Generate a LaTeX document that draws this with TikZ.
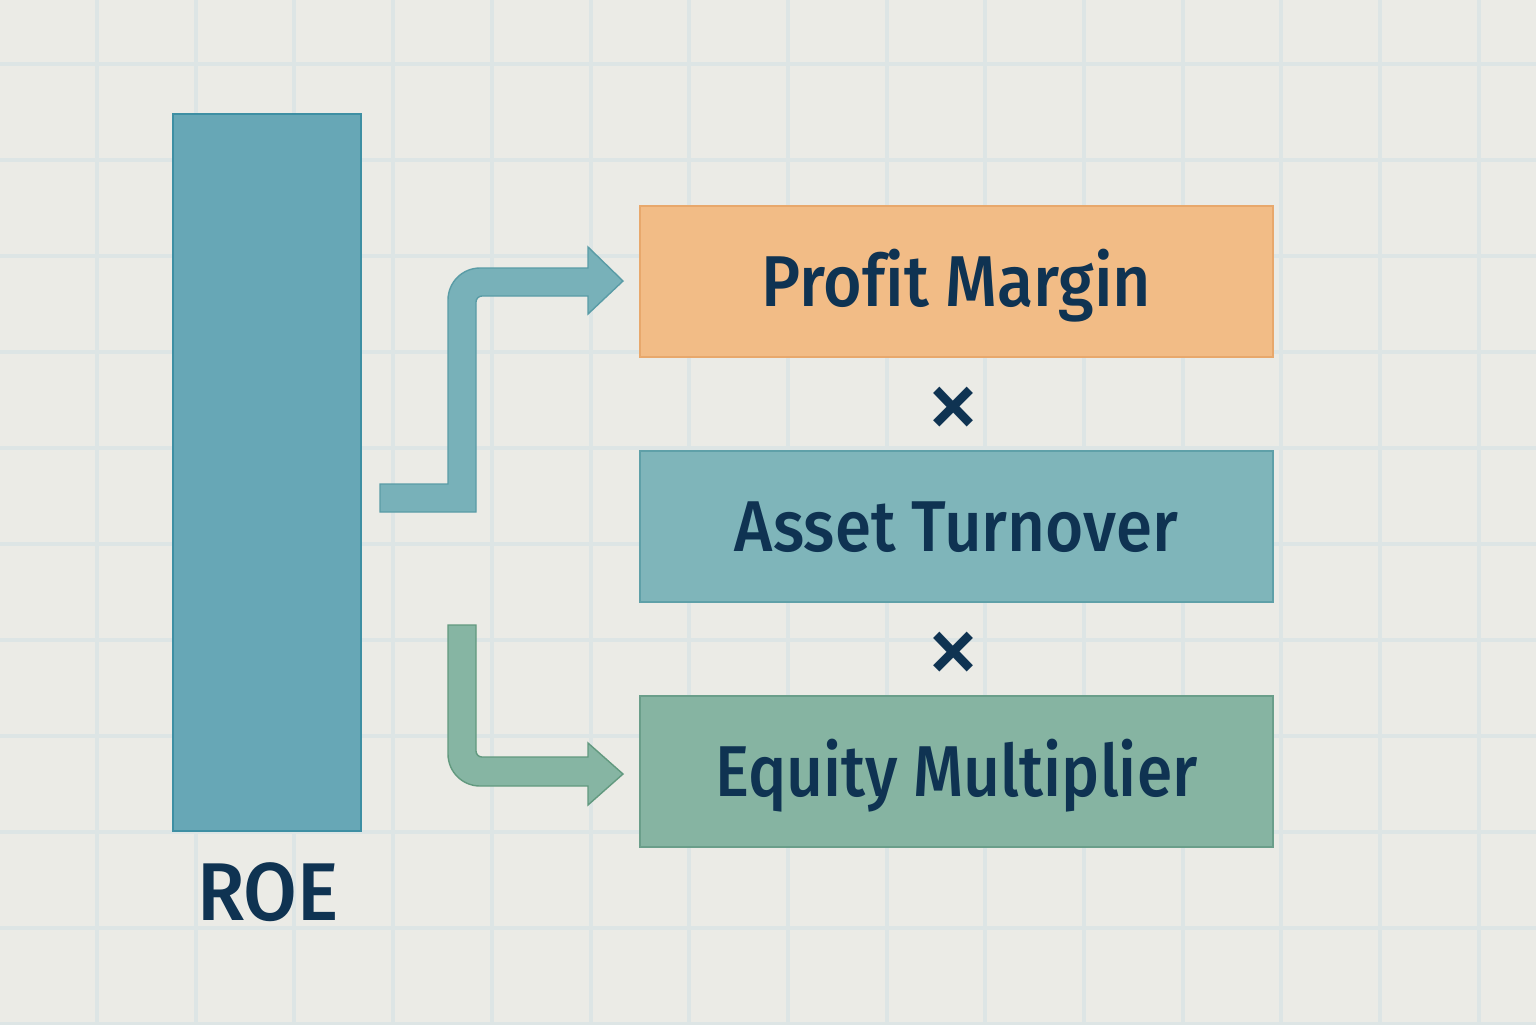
\documentclass[tikz,border=0pt]{standalone}
\usepackage{graphicx}
\usepackage{fontspec}
\setmainfont{Fira Sans}
\newfontfamily\medfont{Fira Sans Medium}[Ligatures=CommonOff]
\definecolor{bgc}{HTML}{EBEBE6}
\definecolor{gridc}{HTML}{DDE5E5}
\definecolor{roec}{HTML}{67A7B6}
\definecolor{roeb}{HTML}{3E8FA3}
\definecolor{pmc}{HTML}{F2BC86}
\definecolor{pmb}{HTML}{E8A86C}
\definecolor{atc}{HTML}{7FB5BA}
\definecolor{atb}{HTML}{5FA0A8}
\definecolor{emc}{HTML}{86B4A2}
\definecolor{emb}{HTML}{6A9E8A}
\definecolor{ar1}{HTML}{78B1B9}
\definecolor{ar1b}{HTML}{5A9CA6}
\definecolor{ar2}{HTML}{86B5A3}
\definecolor{ar2b}{HTML}{62997F}
\definecolor{txtc}{HTML}{0F3352}
\newcommand{\narrowtext}[2]{\scalebox{#1}[1]{#2}}
\tikzset{
  factor/.style={rectangle, inner sep=0pt, minimum width=316.5pt, minimum height=75.5pt,
    line width=0.7pt, text=txtc, font=\medfont\fontsize{36}{40}\selectfont,
    text height=25pt, text depth=0pt},
  gridline/.style={gridc, line width=2pt},
  timesign/.style={inner sep=0pt, text=txtc, font=\fontsize{56}{60}\selectfont},
  blockarrow/.style={line width=0.7pt, line join=miter}
}
\begin{document}
\begin{tikzpicture}[x=0.5pt,y=-0.5pt]
\fill[bgc] (0,0) rectangle (1536,1024);
\useasboundingbox (0,0) rectangle (1536,1024);
% grid
\foreach \i in {0,...,15} {
  \draw[gridline] ({97+98.7*\i},0) -- ({97+98.7*\i},1024);
}
\foreach \j in {0,...,10} {
  \draw[gridline] (0,{64+96*\j}) -- (1536,{64+96*\j});
}
% ROE bar
\node[rectangle, inner sep=0pt, minimum width=94pt, minimum height=358.5pt,
  fill=roec, draw=roeb, line width=0.7pt] (roe) at (267,472.5) {};
\node[text=txtc, inner sep=0pt, font=\medfont\fontsize{41}{45}\selectfont,
  text height=28.5pt, text depth=0pt] (roelabel) at (268,891.5) {\narrowtext{0.95}{ROE}};
% factor boxes
\node[factor, fill=pmc, draw=pmb] (pm) at (956.5,281.5) {\narrowtext{0.92}{Profit Margin}};
\node[factor, fill=atc, draw=atb] (at) at (956.5,526.5) {\narrowtext{0.91}{Asset Turnover}};
\node[factor, fill=emc, draw=emb] (em) at (956.5,771.5) {\narrowtext{0.89}{Equity Multiplier}};
% times signs
\node[timesign] (x1) at (953,414) {×};
\node[timesign] (x2) at (953,659) {×};
% arrow 1 (ROE -> Profit Margin)
\coordinate (a1t) at (623,281);
\filldraw[blockarrow, fill=ar1, draw=ar1b]
  (380,484) -- (448,484) -- (448,300) arc[start angle=180, end angle=270, radius=32]
  -- (588,268) -- (588,247) -- (a1t) -- (588,314) -- (588,296) -- (482,296)
  arc[start angle=270, end angle=180, radius=6] -- (476,512) -- (380,512) -- cycle;
% arrow 2 (ROE -> Equity Multiplier)
\coordinate (a2t) at (623,774);
\filldraw[blockarrow, fill=ar2, draw=ar2b]
  (448,625) -- (476,625) -- (476,751) arc[start angle=180, end angle=90, radius=6]
  -- (588,757) -- (588,743) -- (a2t) -- (588,805) -- (588,786) -- (480,786)
  arc[start angle=90, end angle=180, radius=32] -- cycle;
\end{tikzpicture}
\end{document}
